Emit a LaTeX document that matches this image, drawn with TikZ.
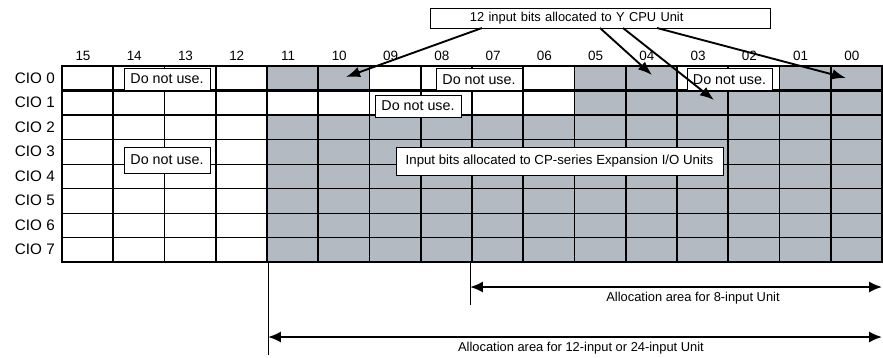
\documentclass[tikz,border=0pt]{standalone}
\usepackage{fontspec}
\setmainfont{Liberation Sans}
\usetikzlibrary{arrows.meta}
\definecolor{ciogray}{RGB}{179,186,194}
\tikzset{
  txt/.style={font=\fontsize{11}{13}\selectfont, inner sep=0pt},
  bitlab/.style={txt, font=\fontsize{11.5}{13}\selectfont},
  ciolab/.style={txt, font=\fontsize{13}{15}\selectfont, anchor=east},
  notuse/.style={txt, draw, fill=white, line width=0.7pt},
  cpuarrow/.style={line width=1.6pt, -{Latex[length=12pt,width=9pt]}},
  areaarrow/.style={line width=1.8pt, {Latex[length=11pt,width=9.5pt]}-{Latex[length=11pt,width=9.5pt]}},
}
\newcommand{\dnu}{\fontsize{12.2}{14}\selectfont Do not use.}
\begin{document}
\begin{tikzpicture}[x=0.03cm,y=-0.03cm]
            \useasboundingbox (0,0) rectangle (883,357);
            % Celdas grises
            \fill[ciogray] (268,115) rectangle (882,262);
            \fill[ciogray] (268,66) rectangle (370,90.5);
            \fill[ciogray] (574,66) rectangle (677,90.5);
            \fill[ciogray] (779,66) rectangle (882,90.5);
            \fill[ciogray] (574,90.5) rectangle (882,115);
            % Rejilla
            \foreach \j in {1,...,15}
                \draw[line width=1.4pt] (62+51.25*\j,66) -- (62+51.25*\j,262);
            \foreach \r in {3,...,7}
                \draw[line width=0.8pt] (62,66+24.5*\r) -- (882,66+24.5*\r);
            \draw[line width=2pt] (62,90.5) -- (882,90.5);
            \draw[line width=2pt] (62,115) -- (882,115);
            \draw[line width=2.2pt] (267,66) -- (267,262);
            \draw[line width=2.4pt] (62,66) rectangle (882,262);
            % Etiquetas de bits y canales
            \foreach \b [count=\j from 0] in {15,14,13,12,11,10,09,08,07,06,05,04,03,02,01,00}
                \node[bitlab] (c\b) at (83+51.25*\j,56) {\b};
            \foreach \r in {0,...,7}
                \node[ciolab] (r\r) at (55,78.25+24.5*\r) {CIO \r};
            % Cuadros
            \node[notuse, minimum width=2.58cm, minimum height=0.66cm] (nu1) at (167,79) {\dnu};
            \node[notuse, minimum width=2.58cm, minimum height=0.66cm] (nu2) at (479,79.5) {\dnu};
            \node[notuse, minimum width=2.55cm, minimum height=0.66cm] (nu3) at (729.5,79.5) {\dnu};
            \node[notuse, minimum width=2.58cm, minimum height=0.66cm] (nu4) at (418,106) {\dnu};
            \node[notuse, minimum width=2.58cm, minimum height=0.78cm] (nu5) at (167,160) {\dnu};
            \node[notuse, font=\fontsize{11.3}{13}\selectfont, minimum width=9.81cm, minimum height=0.84cm] (exp) at (559.5,161)
                {Input bits allocated to CP-series Expansion I/O Units};
            \node[notuse, text width=7.8cm, inner xsep=1.2cm, align=left, minimum height=0.6cm] (cpu) at (600,18)
                {12 input bits allocated to Y CPU Unit};
            % Flechas de la CPU
            \coordinate (s1) at (482,28);
            \coordinate (s2) at (600,28);
            \coordinate (s3) at (623,28);
            \coordinate (s4) at (657,28);
            \coordinate (b10) at (346,77);
            \coordinate (b04) at (652,75);
            \coordinate (b03) at (714,100);
            \coordinate (b00) at (846,78);
            \draw[cpuarrow] (s1) -- (b10);
            \draw[cpuarrow] (s2) -- (b04);
            \draw[cpuarrow] (s3) -- (b03);
            \draw[cpuarrow] (s4) -- (b00);
            % Areas de asignacion
            \coordinate (t8) at (470,262);
            \coordinate (e8) at (470,305);
            \coordinate (t12) at (268,262);
            \coordinate (e12) at (268,355);
            \coordinate (a8l) at (470,287);
            \coordinate (a8r) at (882,287);
            \coordinate (a12l) at (268,337);
            \coordinate (a12r) at (882,337);
            \draw[line width=0.8pt] (t8) -- (e8);
            \draw[line width=0.8pt] (t12) -- (e12);
            \draw[areaarrow] (a8l) -- (a8r);
            \draw[areaarrow] (a12l) -- (a12r);
            \node[txt] (l8) at (693,298) {Allocation area for 8-input Unit};
            \node[txt] (l12) at (581,348) {Allocation area for 12-input or 24-input Unit};
        \end{tikzpicture}
\end{document}
